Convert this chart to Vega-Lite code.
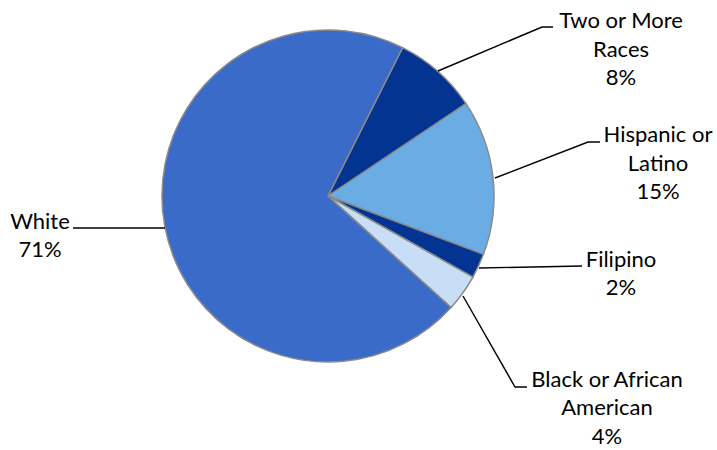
{
  "$schema": "https://vega.github.io/schema/vega-lite/v6.json",
  "autosize": {"type": "none"},
  "width": 656,
  "height": 392,
  "padding": {"left": 0, "top": 0, "right": 61, "bottom": 58},
  "background": "white",
  "config": {"view": {"stroke": null}},
  "data": {
    "values": [
      {"category": "Two or More Races", "value": 8.2, "label": "Two or More\nRaces\n8%"},
      {"category": "Hispanic or Latino", "value": 15.1, "label": "Hispanic or\nLatino\n15%"},
      {"category": "Filipino", "value": 2.4, "label": "Filipino\n2%"},
      {"category": "Black or African American", "value": 3.6, "label": "Black or African\nAmerican\n4%"},
      {"category": "White", "value": 70.7, "label": "White\n71%"}
    ]
  },
  "transform": [
    {"stack": "value", "groupby": [], "as": ["v0", "v1"]}
  ],
  "layer": [
    {
      "mark": {"type": "arc", "radius": 166, "stroke": "#8a8a8a", "strokeWidth": 1.5},
      "encoding": {
        "theta": {"field": "v0", "type": "quantitative", "scale": {"domain": [0, 100], "range": [0.466, 6.7492]}},
        "theta2": {"field": "v1"},
        "color": {
          "field": "category", "type": "nominal", "legend": null,
          "scale": {
            "domain": ["Two or More Races", "Hispanic or Latino", "Filipino", "Black or African American", "White"],
            "range": ["#043491", "#69ade4", "#043491", "#c8def6", "#3a6bc8"]
          }
        }
      }
    },
    {
      "transform": [{"filter": "datum.category === 'Two or More Races'"}],
      "layer": [
        {"mark": {"type": "point", "shape": "M110,-125L214,-169L225,-169", "size": 4, "filled": false, "stroke": "black", "strokeWidth": 1.4, "opacity": 1}},
        {"mark": {"type": "text", "radius": 341.3, "thetaOffset": 0.5665, "font": "Lato", "fontSize": 22, "lineHeight": 28.5, "lineBreak": "\n", "color": "black", "align": "center", "baseline": "middle"},
         "encoding": {"theta": {"field": "v0", "type": "quantitative", "scale": {"domain": [0, 100], "range": [0.466, 6.7492]}}, "text": {"field": "label"}}}
      ]
    },
    {
      "transform": [{"filter": "datum.category === 'Hispanic or Latino'"}],
      "layer": [
        {"mark": {"type": "point", "shape": "M167,-18L260,-54L272,-54", "size": 4, "filled": false, "stroke": "black", "strokeWidth": 1.4, "opacity": 1}},
        {"mark": {"type": "text", "radius": 335.6, "thetaOffset": 0.4068, "font": "Lato", "fontSize": 22, "lineHeight": 28.5, "lineBreak": "\n", "color": "black", "align": "center", "baseline": "middle"},
         "encoding": {"theta": {"field": "v0", "type": "quantitative", "scale": {"domain": [0, 100], "range": [0.466, 6.7492]}}, "text": {"field": "label"}}}
      ]
    },
    {
      "transform": [{"filter": "datum.category === 'Filipino'"}],
      "layer": [
        {"mark": {"type": "point", "shape": "M151,72L254,70", "size": 4, "filled": false, "stroke": "black", "strokeWidth": 1.4, "opacity": 1}},
        {"mark": {"type": "text", "radius": 299.9, "thetaOffset": -0.1442, "font": "Lato", "fontSize": 22, "lineHeight": 28.5, "lineBreak": "\n", "color": "black", "align": "center", "baseline": "middle"},
         "encoding": {"theta": {"field": "v0", "type": "quantitative", "scale": {"domain": [0, 100], "range": [0.466, 6.7492]}}, "text": {"field": "label"}}}
      ]
    },
    {
      "transform": [{"filter": "datum.category === 'Black or African American'"}],
      "layer": [
        {"mark": {"type": "point", "shape": "M135,100L187,191L199,191", "size": 4, "filled": false, "stroke": "black", "strokeWidth": 1.4, "opacity": 1}},
        {"mark": {"type": "text", "radius": 334.2, "thetaOffset": 0.073, "font": "Lato", "fontSize": 22, "lineHeight": 28.5, "lineBreak": "\n", "color": "black", "align": "center", "baseline": "middle"},
         "encoding": {"theta": {"field": "v0", "type": "quantitative", "scale": {"domain": [0, 100], "range": [0.466, 6.7492]}}, "text": {"field": "label"}}}
      ]
    },
    {
      "transform": [{"filter": "datum.category === 'White'"}],
      "layer": [
        {"mark": {"type": "point", "shape": "M-163,32L-255,32", "size": 4, "filled": false, "stroke": "black", "strokeWidth": 1.4, "opacity": 1}},
        {"mark": {"type": "text", "radius": 289.2, "thetaOffset": 2.3154, "font": "Lato", "fontSize": 22, "lineHeight": 28.5, "lineBreak": "\n", "color": "black", "align": "center", "baseline": "middle"},
         "encoding": {"theta": {"field": "v0", "type": "quantitative", "scale": {"domain": [0, 100], "range": [0.466, 6.7492]}}, "text": {"field": "label"}}}
      ]
    }
  ]
}
